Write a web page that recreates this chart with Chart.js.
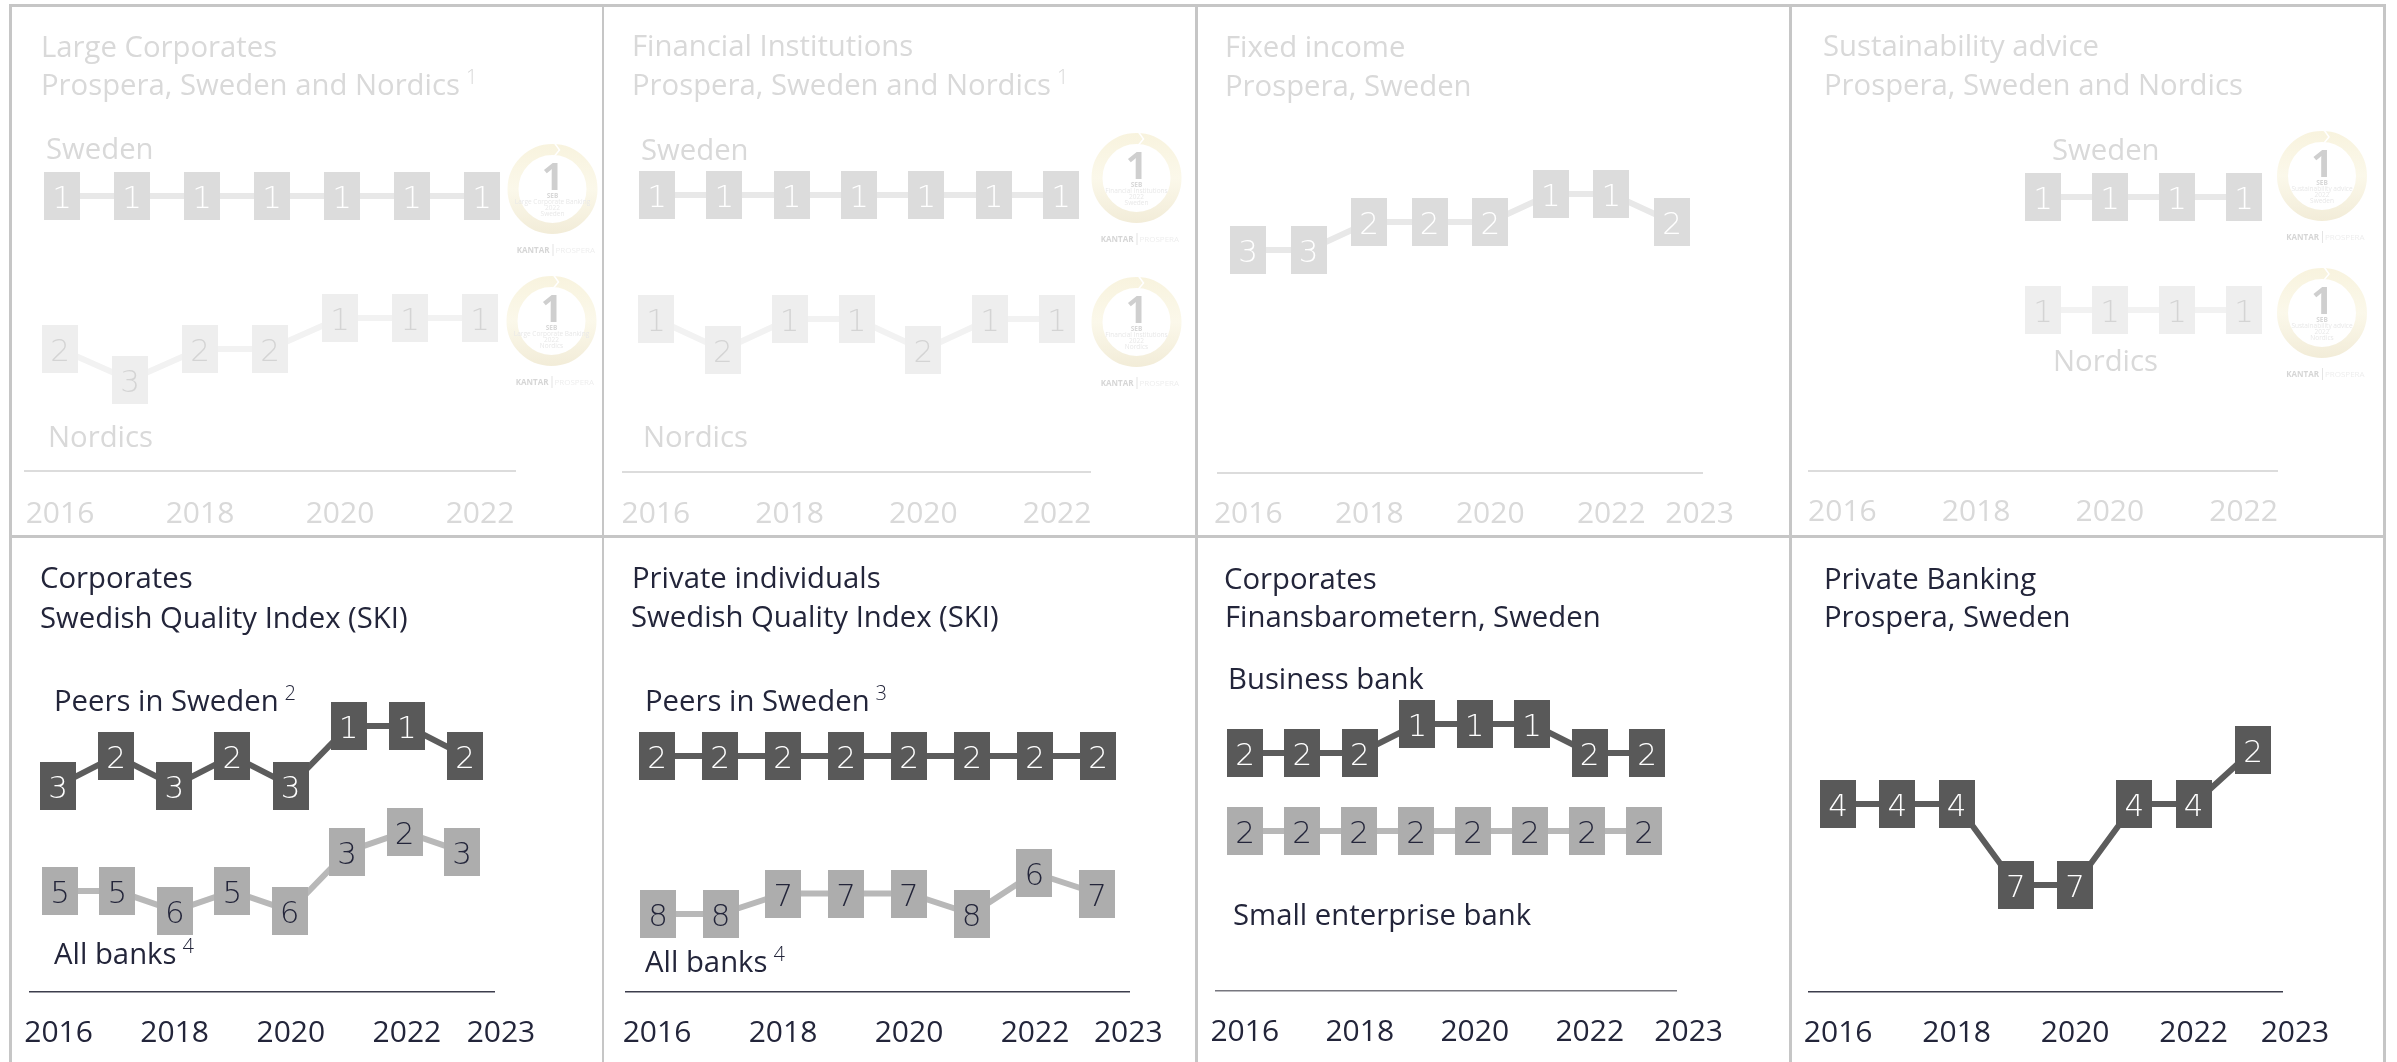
<!DOCTYPE html>
<html>
<head>
<meta charset="utf-8">
<style>
html,body{margin:0;padding:0;background:#fff;width:2397px;height:1062px;overflow:hidden}
canvas{position:absolute;display:block}
.rule{position:absolute;background:#c6c6c6}
</style>
<script src="https://cdn.jsdelivr.net/npm/chart.js@4"></script>
</head>
<body>
<div class="rule" style="left:9px;top:4px;width:2376px;height:2.5px"></div>
<div class="rule" style="left:9px;top:535px;width:2376px;height:2.5px"></div>
<div class="rule" style="left:9px;top:4px;width:2.5px;height:1058px"></div>
<div class="rule" style="left:601.5px;top:4px;width:2.5px;height:1058px"></div>
<div class="rule" style="left:1195px;top:4px;width:2.5px;height:1058px"></div>
<div class="rule" style="left:1789px;top:4px;width:2.5px;height:1058px"></div>
<div class="rule" style="left:2383px;top:4px;width:2.5px;height:1058px"></div>
<script>
// ---------- data ----------
const years16to22 = [2016, 2017, 2018, 2019, 2020, 2021, 2022];
const years16to23 = [2016, 2017, 2018, 2019, 2020, 2021, 2022, 2023];
const years19to22 = [2019, 2020, 2021, 2022];

const largeCorpSweden  = [1, 1, 1, 1, 1, 1, 1];
const largeCorpNordics = [2, 3, 2, 2, 1, 1, 1];
const finInstSweden    = [1, 1, 1, 1, 1, 1, 1];
const finInstNordics   = [1, 2, 1, 1, 2, 1, 1];
const fixedIncome      = [3, 3, 2, 2, 2, 1, 1, 2];
const sustainSweden    = [1, 1, 1, 1];
const sustainNordics   = [1, 1, 1, 1];
const skiCorpPeers     = [3, 2, 3, 2, 3, 1, 1, 2];
const skiCorpAll       = [5, 5, 6, 5, 6, 3, 2, 3];
const skiPrivPeers     = [2, 2, 2, 2, 2, 2, 2, 2];
const skiPrivAll       = [8, 8, 7, 7, 7, 8, 6, 7];
const finansBusiness   = [2, 2, 2, 1, 1, 1, 2, 2];
const finansSmall      = [2, 2, 2, 2, 2, 2, 2, 2];
const privateBanking   = [4, 4, 4, 7, 7, 4, 4, 2];

const tickLabelsNoLast = [2016, 2018, 2020, 2022];

// ---------- styles ----------
const FONT = '"Open Sans"';
const NUMFONT = '200 31px "DejaVu Sans"';
const faded = {text:'#d9d9d9', axis:'#dcdcdc', axisW:2};
const solid = {text:'#23253a', axis:'#3c3d4c', axisW:1.5};
const sw  = {fill:'#dcdcdc', line:'#e8e8e8', num:'#ffffff'};
const no  = {fill:'#eeeeee', line:'#f2f2f2', num:'#d4d4d4'};
const drk = {fill:'#595959', line:'#5c5c5c', num:'#ffffff'};
const lgt = {fill:'#adadad', line:'#b8b8b8', num:'#23253a'};

// ---------- layout (page pixels) ----------
const panels = [
 {box:[0,0,600,530], look:faded, axis:[25,515,471], tickPad:25, ticks:tickLabelsNoLast, years:[2016,2022],
  text:[['Large Corporates',41,57],['Prospera, Sweden and Nordics',41,95,'1'],['Sweden',46,159],['Nordics',48,447]],
  medals:[[552.5,189,'Large Corporate Banking','Sweden'],[551.5,321,'Large Corporate Banking','Nordics']],
  series:[
   {years:years16to22,ranks:largeCorpSweden,style:sw,xs:[62,482],y:[1,196,31]},
   {years:years16to22,ranks:largeCorpNordics,style:no,xs:[60,480],y:[1,318,31]}]},
 {box:[600,0,590,530], look:faded, axis:[622.5,1090.5,472], tickPad:24, ticks:tickLabelsNoLast, years:[2016,2022],
  text:[['Financial Institutions',632,56],['Prospera, Sweden and Nordics',632,95,'1'],['Sweden',641,160],['Nordics',643,447]],
  medals:[[1136.5,178,'Financial Institutions','Sweden'],[1136.5,322,'Financial Institutions','Nordics']],
  series:[
   {years:years16to22,ranks:finInstSweden,style:sw,xs:[657,1061],y:[1,195,31]},
   {years:years16to22,ranks:finInstNordics,style:no,xs:[656,1057],y:[1,319,31]}]},
 {box:[1190,0,600,530], look:faded, axis:[1218,1702,472.5], tickPad:24, ticks:[2016,2018,2020,2022,2023.46], years:[2016,2023],
  text:[['Fixed income',1225,57],['Prospera, Sweden',1225,96]],
  series:[{years:years16to23,ranks:fixedIncome,style:sw,xs:[1248,1672],y:[1,194,28]}]},
 {box:[1790,0,607,530], look:faded, axis:[1809,2277,471], tickPad:23, ticks:tickLabelsNoLast, years:[2016,2022],
  text:[['Sustainability advice',1823,56],['Prospera, Sweden and Nordics',1824,95],['Sweden',2052,160],['Nordics',2053,371]],
  medals:[[2322,176,'Sustainability advice','Sweden'],[2322,313,'Sustainability advice','Nordics']],
  series:[
   {years:years19to22,ranks:sustainSweden,style:sw,xs:[2043,2244],y:[1,197,31]},
   {years:years19to22,ranks:sustainNordics,style:no,xs:[2043,2244],y:[1,310,31]}]},
 {box:[0,530,600,532], look:solid, axis:[29.5,494,992], tickPad:23, ticks:[2016,2018,2020,2022,2023.62], years:[2016,2023],
  text:[['Corporates',40,588],['Swedish Quality Index (SKI)',40,628],['Peers in Sweden',54,711,'2'],['All banks',54,964,'4']],
  series:[
   {years:years16to23,ranks:skiCorpPeers,style:drk,xs:[58,465],y:[1,726,29.8]},
   {years:years16to23,ranks:skiCorpAll,style:lgt,xs:[60,462],y:[2,832,19.7]}]},
 {box:[600,530,590,532], look:solid, axis:[625.5,1129.5,992], tickPad:23, ticks:[2016,2018,2020,2022,2023.48], years:[2016,2023],
  text:[['Private individuals',632,588],['Swedish Quality Index (SKI)',631,627],['Peers in Sweden',645,711,'3'],['All banks',645,972,'4']],
  series:[
   {years:years16to23,ranks:skiPrivPeers,style:drk,xs:[657,1098],y:[2,756,20]},
   {years:years16to23,ranks:skiPrivAll,style:lgt,xs:[658,1097],y:[6,873,20.5]}]},
 {box:[1190,530,600,532], look:{...solid,axis:'#77777f'}, axis:[1216,1676,991], tickPad:23, ticks:[2016,2018,2020,2022,2023.72], years:[2016,2023],
  text:[['Corporates',1224,589],['Finansbarometern, Sweden',1225,627],['Business bank',1228,689],['Small enterprise bank',1233,925]],
  series:[
   {years:years16to23,ranks:finansBusiness,style:drk,xs:[1245,1647],y:[1,724,29]},
   {years:years16to23,ranks:finansSmall,style:lgt,xs:[1245,1644],y:[2,831,29]}]},
 {box:[1790,530,607,532], look:solid, axis:[1808.5,2282.5,992], tickPad:23, ticks:[2016,2018,2020,2022,2023.71], years:[2016,2023],
  text:[['Private Banking',1824,589],['Prospera, Sweden',1824,627]],
  series:[{years:years16to23,ranks:privateBanking,style:drk,xs:[1838,2253],y:[2,750,27]}]}
];

const MARK_W = 36, MARK_H = 48;
function markImage(color){
  const c = document.createElement('canvas');
  c.width = MARK_W; c.height = MARK_H;
  const g = c.getContext('2d');
  g.fillStyle = color; g.fillRect(0,0,MARK_W,MARK_H);
  return c;
}

// numbers inside the markers
const markNumbers = {
  id:'markNumbers',
  afterDatasetsDraw(chart){
    const ctx = chart.ctx;
    ctx.save();
    ctx.font = NUMFONT;
    ctx.textAlign = 'center';
    ctx.textBaseline = 'alphabetic';
    chart.data.datasets.forEach((ds,i)=>{
      ctx.fillStyle = ds.numColor;
      chart.getDatasetMeta(i).data.forEach((pt,j)=>{
        ctx.fillText(String(ds.data[j].y), pt.x, pt.y+12);
      });
    });
    ctx.restore();
  }
};

// titles, series captions and footnote marks
const captions = {
  id:'captions',
  afterDraw(chart){
    const {ctx} = chart, p = chart.options.plugins.captions;
    ctx.save();
    ctx.fillStyle = p.color;
    ctx.textBaseline = 'alphabetic';
    ctx.textAlign = 'left';
    p.items.forEach(([t,x,y,sup])=>{
      ctx.font = '400 29.3px '+FONT;
      const X = x-p.ox, Y = y-p.oy;
      ctx.fillText(t,X,Y);
      if(sup){
        const w = ctx.measureText(t).width;
        ctx.font = '300 20px '+FONT;
        ctx.fillText(sup,X+w+6,Y-11);
      }
    });
    ctx.restore();
  }
};

// award rosettes
const medals = {
  id:'medals',
  afterDraw(chart){
    const {ctx} = chart, p = chart.options.plugins.medals;
    (p.items||[]).forEach(([cx,cy,l1,l2])=>{
      const x = cx-p.ox, y = cy-p.oy;
      ctx.save();
      ctx.filter = 'blur(0.6px)';
      const g = ctx.createLinearGradient(0,y-45,0,y+45);
      g.addColorStop(0,'#f8f3de'); g.addColorStop(.5,'#fbf8ea'); g.addColorStop(1,'#f2ecd8');
      ctx.strokeStyle = g; ctx.lineWidth = 11;
      ctx.beginPath(); ctx.arc(x,y,39.5,0,Math.PI*2); ctx.stroke();
      ctx.strokeStyle = '#ffffff'; ctx.lineWidth = 1.5;
      ctx.beginPath(); ctx.moveTo(x+2,y-46); ctx.lineTo(x+7,y-39); ctx.lineTo(x+2,y-33); ctx.stroke();
      ctx.textAlign = 'center'; ctx.textBaseline='alphabetic';
      ctx.fillStyle = '#cfcfcf'; ctx.font='700 38px '+FONT;
      ctx.fillText('1',x,y+1);
      ctx.fillStyle = '#d8d8d8'; ctx.font='700 6.5px '+FONT;
      ctx.fillText('SEB',x,y+9);
      ctx.fillStyle = '#e8e8e8'; ctx.font='400 6.5px '+FONT;
      ctx.fillText(l1,x,y+15); ctx.fillText('2022',x,y+21); ctx.fillText(l2,x,y+27);
      ctx.textAlign='right'; ctx.fillStyle='#d6d6d6'; ctx.font='700 8px '+FONT;
      ctx.fillText('KANTAR',x-3,y+64);
      ctx.textAlign='left'; ctx.fillStyle='#eeeeee'; ctx.font='400 8px '+FONT;
      ctx.fillText('PROSPERA',x+3,y+64);
      ctx.fillStyle='#e4e4e4'; ctx.fillRect(x,y+55,1,12);
      ctx.restore();
    });
  }
};

function bounds(a,pa,perPx,lo,hi){ // axis range so that value a sits at pixel pa
  return {min:a+(lo-pa)*perPx, max:a+(hi-pa)*perPx};
}

panels.forEach(P=>{
  const [bx,by,bw,bh] = P.box, [ax0,ax1,ay] = P.axis;
  const cv = document.createElement('canvas');
  cv.style.left = bx+'px'; cv.style.top = by+'px';
  cv.width = bw; cv.height = bh;
  document.body.appendChild(cv);

  const scales = {
    x:{type:'linear',display:true,min:P.years[0]-.5,max:P.years[1]+.5,
       grid:{display:false,drawTicks:false},
       border:{display:true,color:P.look.axis,width:P.look.axisW},
       afterFit(s){ s.height = bh-(ay-by); s.paddingLeft = 0; s.paddingRight = 0; },
       afterBuildTicks(s){ s.ticks = P.ticks.map(v=>({value:v})); },
       ticks:{autoSkip:false,maxRotation:0,minRotation:0,padding:P.tickPad,color:P.look.text,
              font:{family:'Open Sans',size:30,weight:'400'},
              callback:(v)=>String(Math.floor(v))}}
  };
  const datasets = P.series.map((s,i)=>{
    const yr0 = s.years[0], yr1 = s.years[s.years.length-1];
    scales['x'+i] = Object.assign({type:'linear',axis:'x',display:false},
       bounds(yr0,s.xs[0],(yr1-yr0)/(s.xs[1]-s.xs[0]),ax0,ax1));
    scales['y'+i] = Object.assign({type:'linear',axis:'y',display:false,reverse:true},
       bounds(s.y[0],s.y[1],1/s.y[2],by,ay));
    return {
      data:s.years.map((yr,j)=>({x:yr,y:s.ranks[j]})),
      xAxisID:'x'+i, yAxisID:'y'+i,
      borderColor:s.style.line, borderWidth:6, tension:0, clip:false,
      pointStyle:markImage(s.style.fill), pointRadius:1, pointHoverRadius:1,
      numColor:s.style.num
    };
  });

  new Chart(cv,{
    type:'line',
    data:{datasets},
    options:{
      responsive:false,animation:false,devicePixelRatio:1,events:[],
      layout:{autoPadding:false,padding:{left:ax0-bx,right:bx+bw-ax1,top:0,bottom:0}},
      scales,
      plugins:{legend:{display:false},tooltip:{enabled:false},title:{display:false},
        captions:{items:P.text,color:P.look.text,ox:bx,oy:by},
        medals:{items:P.medals,ox:bx,oy:by}}
    },
    plugins:[markNumbers,captions,medals]
  });
});
</script>
</body>
</html>
